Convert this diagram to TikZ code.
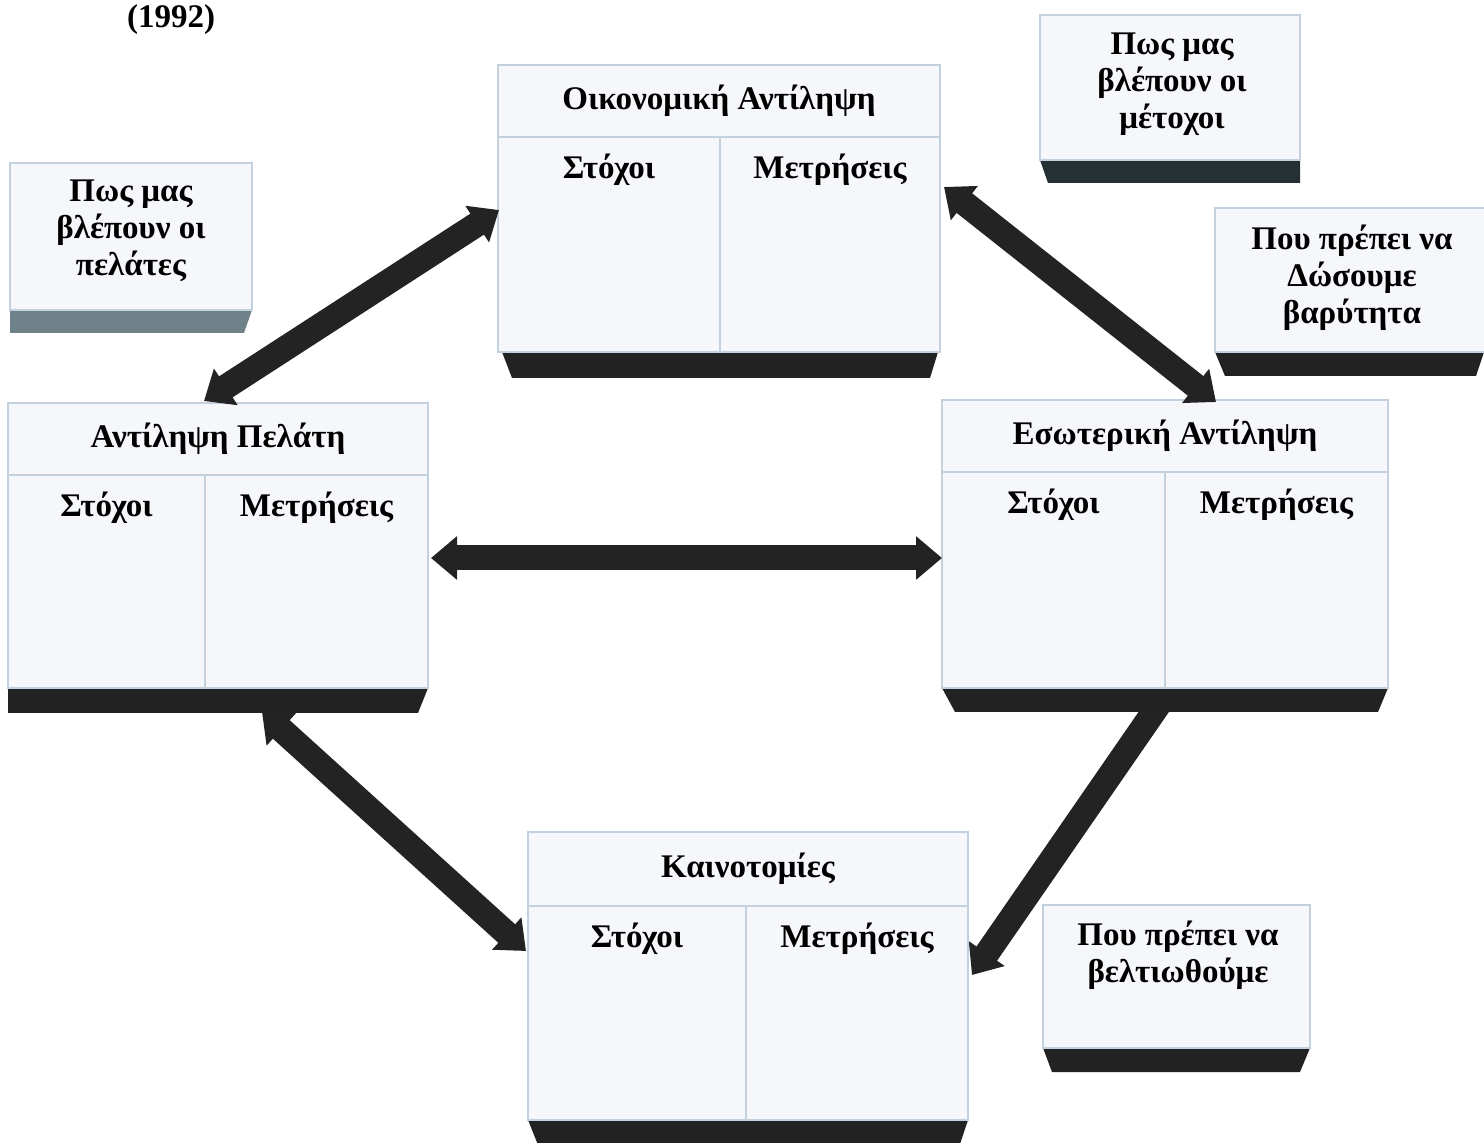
\documentclass[tikz,border=0pt]{standalone}
\usepackage{fontspec}
\setmainfont{Liberation Serif}
\usetikzlibrary{arrows.meta}
\definecolor{edge}{HTML}{C3D1DE}
\definecolor{panelfill}{HTML}{F5F7FB}
\definecolor{bardark}{HTML}{222222}
\definecolor{bargray}{HTML}{6F8189}
\definecolor{barteal}{HTML}{243033}
\definecolor{arrowc}{HTML}{232323}
\tikzset{
  panel/.style={draw=edge, fill=panelfill, line width=1pt},
  panelline/.style={draw=edge, line width=1pt},
  ttl/.style={font=\fontsize{16.5}{18.5}\selectfont\bfseries, text=black, align=center, inner sep=0pt},
  blockarrow/.style={draw=arrowc, line width=12.5pt, {Triangle[width=21pt,length=13pt]}-{Triangle[width=21pt,length=13pt]}},
  blockarrowone/.style={draw=arrowc, line width=12.5pt, -{Triangle[width=21pt,length=13pt]}},
}
% name, x1, y1, x2, y2, title line y, divider x, title
\newcommand\bscbox[8]{%
  \draw[panel] (#2,#3) rectangle (#4,#5);
  \draw[panelline] (#2,#6) -- (#4,#6);
  \draw[panelline] (#7,#6) -- (#7,#5);
  \node[ttl] (#1) at ({(#2+#4)/2},{(#3+#6)/2}) {#8};
  \node[ttl] (#1-s) at ({(#2+#7)/2},{#6+33}) {Στόχοι};
  \node[ttl] (#1-m) at ({(#7+#4)/2},{#6+33}) {Μετρήσεις};
}
\begin{document}
\begin{tikzpicture}[x=0.5pt,y=-0.5pt]
\useasboundingbox (0,0) rectangle (1484,1143);
\clip (0,0) rectangle (1484,1143);
\fill[white] (0,0) rectangle (1484,1143);

\node[ttl, anchor=base] (year) at (171,28) {(1992)};

% arrow behind box (emerges from bar)
\coordinate (e5s) at (1162,700);
\coordinate (e5e) at (972,975);
\draw[blockarrowone] (e5s) -- (e5e);

% ---- big boxes ----
\fill[bardark] (502,352) -- (938,352) -- (930,378) -- (512,378) -- cycle;
\bscbox{fin}{498}{65}{940}{352}{137}{720}{Οικονομική Αντίληψη}
\fill[bardark] (8,688) -- (428,688) -- (418,713) -- (8,713) -- cycle;
\bscbox{cust}{8}{403}{428}{688}{475}{205}{Αντίληψη Πελάτη}
\fill[bardark] (942,688) -- (1388,688) -- (1378,712) -- (955,712) -- cycle;
\bscbox{int}{942}{400}{1388}{688}{472}{1165}{Εσωτερική Αντίληψη}
\fill[bardark] (528,1120) -- (968,1120) -- (958,1150) -- (540,1150) -- cycle;
\bscbox{inn}{528}{832}{968}{1120}{906}{746}{Καινοτομίες}

% ---- small boxes ----
\fill[bargray] (10,310) -- (252,310) -- (244,333) -- (10,333) -- cycle;
\draw[panel] (10,163) rectangle (252,310);
\node[ttl] (qcust) at (131,231) {Πως μας\\βλέπουν οι\\πελάτες};

\fill[barteal] (1040,160) -- (1300,160) -- (1300,183) -- (1048,183) -- cycle;
\draw[panel] (1040,15) rectangle (1300,160);
\node[ttl] (qsh) at (1172,84) {Πως μας\\βλέπουν οι\\μέτοχοι};

\fill[bardark] (1215,352) -- (1484,352) -- (1476,376) -- (1225,376) -- cycle;
\draw[panel] (1215,208) rectangle (1490,352);
\node[ttl] (qfocus) at (1352,278) {Που πρέπει να\\Δώσουμε\\βαρύτητα};

\fill[bardark] (1043,1048) -- (1310,1048) -- (1300,1072) -- (1052,1072) -- cycle;
\draw[panel] (1043,905) rectangle (1310,1048);
\node[ttl] (qimp) at (1178,955) {Που πρέπει να\\βελτιωθούμε};

% ---- arrows ----
\coordinate (e1s) at (204,401);
\coordinate (e1e) at (499,210);
\draw[blockarrow] (e1s) -- (e1e);
\coordinate (e2s) at (944,187);
\coordinate (e2e) at (1216,402);
\draw[blockarrow] (e2s) -- (e2e);
\coordinate (e3s) at (431,558);
\coordinate (e3e) at (942,558);
\draw[blockarrow] (e3s) -- (e3e);
\coordinate (e4s) at (262,712);
\coordinate (e4e) at (526,951);
\draw[blockarrow] (e4s) -- (e4e);
\end{tikzpicture}
\end{document}
